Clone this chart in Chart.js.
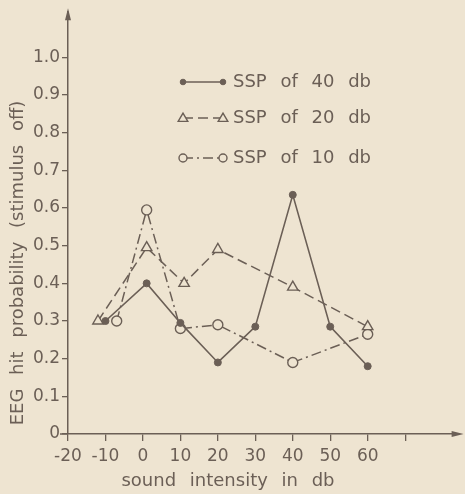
<!DOCTYPE html>
<html>
<head>
<meta charset="utf-8">
<script src="https://cdn.jsdelivr.net/npm/chart.js@4.4.1/dist/chart.umd.min.js"></script>
<style>
  html, body { margin: 0; padding: 0; background: #eee4d1; }
  .chart-box { width: 465px; height: 494px; position: relative; }
</style>
</head>
<body>
<div class="chart-box"><canvas id="myChart"></canvas></div>
<script>
const ink = '#6b5f56';
const paper = '#eee4d1';
const fontFamily = '"DejaVu Sans", sans-serif';

// data
const seriesNames = ['SSP of 40 db', 'SSP of 20 db', 'SSP of 10 db'];
const ssp40X = [-10, 1, 10, 20, 30, 40, 50, 60];
const ssp40Y = [0.30, 0.40, 0.295, 0.19, 0.285, 0.635, 0.285, 0.18];
const ssp20X = [-12, 1, 11, 20, 40, 60];
const ssp20Y = [0.30, 0.495, 0.40, 0.49, 0.39, 0.285];
const ssp10X = [-7, 1, 10, 20, 40, 60];
const ssp10Y = [0.30, 0.595, 0.28, 0.29, 0.19, 0.265];

const xTicks = [-20, -10, 0, 10, 20, 30, 40, 50, 60, 70];
const xTickLabels = ['-20', '-10', '0', '10', '20', '30', '40', '50', '60', ''];
const yTicks = [0, 0.1, 0.2, 0.3, 0.4, 0.5, 0.6, 0.7, 0.8, 0.9, 1.0];
const yTickLabels = ['0', '0.1', '0.2', '0.3', '0.4', '0.5', '0.6', '0.7', '0.8', '0.9', '1.0'];

const xTitle = 'sound intensity in db';
const yTitle = 'EEG hit probability (stimulus off)';

function toPoints(xs, ys) {
    return xs.map((x, i) => ({ x: x, y: ys[i] }));
}

const ctx = document.getElementById('myChart').getContext('2d');

// legend, axis titles and arrow heads drawn by hand
const figurePlugin = {
    id: 'figure',
    beforeDraw(chart) {
        chart.ctx.wordSpacing = '8px';
    },
    afterDraw(chart) {
        const c = chart.ctx;
        const area = chart.chartArea;
        c.save();
        c.fillStyle = ink;
        c.strokeStyle = ink;

        // arrow heads
        c.beginPath();
        c.moveTo(area.left, area.top - 4);
        c.lineTo(area.left - 3, area.top + 8);
        c.lineTo(area.left + 3, area.top + 8);
        c.closePath();
        c.fill();
        c.beginPath();
        c.moveTo(area.right + 6, area.bottom);
        c.lineTo(area.right - 6, area.bottom - 3);
        c.lineTo(area.right - 6, area.bottom + 3);
        c.closePath();
        c.fill();
        // little stub of x axis left of the y axis
        c.lineWidth = 1.5;
        c.beginPath();
        c.moveTo(area.left - 8, area.bottom);
        c.lineTo(area.left, area.bottom);
        c.stroke();

        // axis titles
        c.font = '18px ' + fontFamily;
        c.textAlign = 'center';
        c.textBaseline = 'middle';
        c.fillText(xTitle, 228, 481);
        c.translate(18, 263);
        c.rotate(-Math.PI / 2);
        c.fillText(yTitle, 0, 0);
        c.setTransform(1, 0, 0, 1, 0, 0);

        // legend
        const rows = [82, 118, 158];
        chart.data.datasets.forEach((ds, i) => {
            const y = rows[i];
            c.setLineDash(ds.borderDash || []);
            c.lineWidth = ds.borderWidth;
            c.beginPath();
            c.moveTo(183, y);
            c.lineTo(223, y);
            c.stroke();
            c.setLineDash([]);
            [183, 223].forEach(px => {
                c.lineWidth = ds.pointBorderWidth;
                c.fillStyle = ds.pointBackgroundColor;
                const r = ds.pointRadius * 0.8;
                c.beginPath();
                if (ds.pointStyle === 'triangle') {
                    c.moveTo(px, y - r);
                    c.lineTo(px - r, y + r * 0.7);
                    c.lineTo(px + r, y + r * 0.7);
                    c.closePath();
                } else {
                    c.arc(px, y, r, 0, Math.PI * 2);
                }
                c.fill();
                c.stroke();
            });
            c.fillStyle = ink;
            c.textAlign = 'left';
            c.fillText(ds.label, 233, y);
        });
        c.restore();
    }
};

let myChart = new Chart(ctx, {
    type: 'line',
    data: {
        datasets: [
            { label: seriesNames[0], data: toPoints(ssp40X, ssp40Y), borderColor: ink, borderWidth: 1.6,
              pointStyle: 'circle', pointRadius: 3.5, pointBackgroundColor: ink, pointBorderColor: ink, pointBorderWidth: 1 },
            { label: seriesNames[1], data: toPoints(ssp20X, ssp20Y), borderColor: ink, borderWidth: 1.5, borderDash: [10, 5],
              pointStyle: 'triangle', pointRadius: 6, pointBackgroundColor: paper, pointBorderColor: ink, pointBorderWidth: 1.4 },
            { label: seriesNames[2], data: toPoints(ssp10X, ssp10Y), borderColor: ink, borderWidth: 1.5, borderDash: [10, 4, 2, 4],
              pointStyle: 'circle', pointRadius: 5, pointBackgroundColor: paper, pointBorderColor: ink, pointBorderWidth: 1.4 }
        ]
    },
    options: {
        responsive: true,
        maintainAspectRatio: false,
        animation: false,
        layout: { padding: { top: 12, right: 7, left: 0, bottom: 0 } },
        plugins: { legend: { display: false }, tooltip: { enabled: false } },
        elements: { line: { tension: 0, fill: false } },
        scales: {
            x: {
                type: 'linear',
                min: -20,
                max: 84,
                afterBuildTicks: axis => { axis.ticks = xTicks.map(v => ({ value: v })); },
                afterFit: scale => { scale.height = 60; },
                ticks: {
                    color: ink,
                    padding: 5,
                    maxRotation: 0,
                    autoSkip: false,
                    font: { family: fontFamily, size: 17 },
                    callback: (value, index) => xTickLabels[index]
                },
                grid: { drawOnChartArea: false, drawTicks: true, tickLength: 7, color: ink, lineWidth: 1.3 },
                border: { display: true, color: ink, width: 1.5 }
            },
            y: {
                min: 0,
                max: 1.12,
                afterBuildTicks: axis => { axis.ticks = yTicks.map(v => ({ value: v })); },
                afterFit: scale => { scale.width = 68; },
                ticks: {
                    color: ink,
                    padding: 2,
                    autoSkip: false,
                    font: { family: fontFamily, size: 17 },
                    callback: (value, index) => yTickLabels[index]
                },
                grid: { drawOnChartArea: false, drawTicks: true, tickLength: 6, color: ink, lineWidth: 1.3 },
                border: { display: true, color: ink, width: 1.5 }
            }
        }
    },
    plugins: [figurePlugin]
});
</script>
</body>
</html>
